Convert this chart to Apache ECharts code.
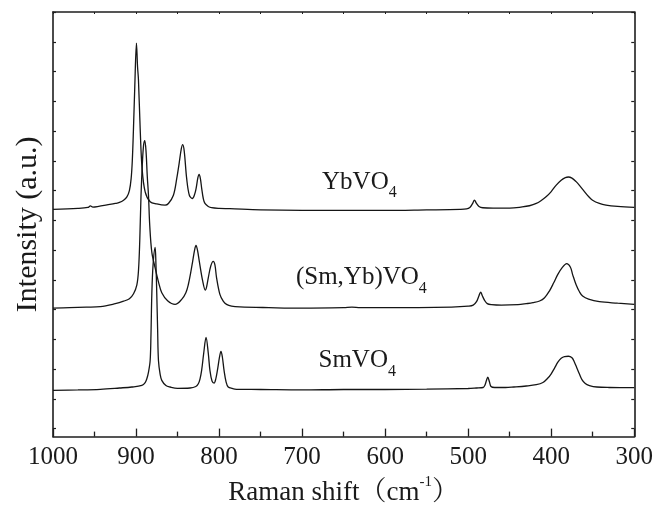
<!DOCTYPE html>
<html>
<head>
<meta charset="utf-8">
<script src="https://cdn.jsdelivr.net/npm/echarts@6/dist/echarts.min.js"></script>
<style>html,body{margin:0;padding:0;background:#fff;}#c{width:656px;height:511px;}</style>
</head>
<body>
<div id="c"></div>
<script>
// Raman shift (cm-1) vs intensity (a.u., stacked traces as plotted)
const xTicks = [1000, 900, 800, 700, 600, 500, 400, 300];
const yTicks = [0, 30, 60, 90, 120, 150, 180, 210, 240, 270, 300, 330, 360, 390, 420];

const ybVO4 = [
  [1000,221],[970,222],[958,223],[955,224.5],[952,223.3],[945,224],[935,225.5],[925,227],[920,228],
  [915,230.3],[911,233.7],[908,240],[905.9,252],[904.5,270],[903.1,302],[901.5,345],[899.5,388.7],
  [898.2,365],[897.1,352],[895,302],[892.7,262],[889,238.7],[883,228.7],[875,226.5],[865,225.3],
  [861,227],[855,235.3],[851,252],[848,268],[845.5,282],[843.8,286.3],[842,280],[839,252],[835.8,235.3],
  [832.2,232],[829.5,236],[827.7,242],[825.5,253],[824,256.3],[822.5,252],[820.9,242],[819,232],
  [817,227],[813,224],[809,222.7],[800,222],[787,221.7],[750,220.5],[700,220],[650,220],[600,220],
  [550,220.5],[510,221],[502,221.5],[498,223],[495,226.5],[492.4,230.3],[490,227],[487,224],
  [482.4,222.7],[470,222.3],[450,222.3],[435,223.5],[426.3,224.7],[418,227],[412,230],[406.2,233.7],
  [400,239],[394.2,245.3],[388,250.5],[383,253],[379.4,253.7],[375,252.5],[370,249],[366,245.3],
  [360,239],[355,234],[350.2,230.3],[342,227],[334,225.3],[320,224],[300,223]
];

const smYbVO4 = [
  [1000,121.5],[980,122],[960,122.5],[943,123],[925,126],[915,128.5],[908,131],[903,136],[899,145],
  [897,160],[895.5,190],[894,235],[892.5,265],[891,285],[889.5,290.3],[888,280],[886.5,255],[885,235],
  [883.5,205],[881,178],[877,162],[873,148],[869,137],[862,129],[853,125.3],[845,130.3],[840,137],
  [837,145.3],[834,158],[831.8,168.7],[829.5,180],[827.8,184.7],[826,180],[823.8,168.7],[819.7,148.7],
  [816.6,139.7],[815,143],[813,152],[810,164],[807,168.7],[805,165],[803,152],[799,135.3],[795,128.5],
  [791,125.3],[785,123.5],[775,122.7],[740,122],[700,121.5],[650,122],[640,122.5],[630,122],[600,122],
  [560,122],[520,122.5],[500,123.5],[494,124.5],[490,128],[487,134],[485,137.7],[483,134],[480,129],
  [477,126],[472,125],[460,124.5],[440,125],[430,126],[422,127],[414,128.7],[408,132],[402.2,138.7],
  [397,147],[392.2,155.3],[387,162],[381.4,166.3],[377,163],[374.2,155.3],[370,145],[366,138],
  [362.2,133.7],[355,130.5],[342,128],[320,126.5],[300,125.3]
];

const smVO4 = [
  [1000,38.5],[970,39],[943,39.7],[920,41],[905,42],[893,43.7],[889,46.5],[887,50.3],[885,57],
  [883,68.7],[882,95],[881,135.3],[879.5,165],[877,182.7],[876,165],[875,135.3],[874,100],[873,68.7],
  [871,55],[869,48.7],[864,43.5],[859,42],[850,40.7],[835,41],[828,42.5],[825,45.3],[823,50],
  [821,58.7],[818.5,76],[815.7,92],[813,76],[811,58.7],[808.5,48],[806,46],[804,50],[802,58.7],
  [799.5,72],[797.7,78],[796,72],[794,58.7],[791.5,47],[789,42],[784,40.5],[779,39.7],[750,39.5],
  [700,39],[650,39.5],[600,39.5],[550,39.8],[500,40.5],[490,41],[482,41.5],[480,43.5],[478,48.5],
  [476.4,52],[474.5,47.5],[472.5,42.5],[468,41.5],[455,41.5],[445,42],[430,43],[418,44.3],[410,46.5],
  [404,51],[400,55.3],[396,61],[392,67],[388,71],[384,72.7],[379.4,73],[375,71.5],[372,67],[369,61],
  [366,55],[363,49.5],[359,45.5],[354,43.5],[345,42],[330,41.5],[300,41.3]
];

// label anchors (data coords of text centre)
const labels = [
  { name: 'YbVO', sub: '4', at: [631, 248.5] },
  { name: '(Sm,Yb)VO', sub: '4', at: [628.6, 152.5] },
  { name: 'SmVO', sub: '4', at: [633.6, 68.5] }
];

const FONT = '"Liberation Serif", "Times New Roman", "Noto Serif CJK SC", "Noto Sans CJK SC", serif';
const AXC = '#1e1e1e';

const chart = echarts.init(document.getElementById('c'), null, { renderer: 'canvas' });

const lineSeries = (data) => ({
  type: 'line', data: data, showSymbol: false, smooth: 0.35, animation: false,
  lineStyle: { color: '#151515', width: 1.3 }, xAxisIndex: 0, yAxisIndex: 0
});

chart.setOption({
  animation: false,
  backgroundColor: '#fff',
  grid: { left: 53, right: 21, top: 12, bottom: 71, containLabel: false },
  xAxis: [{
    type: 'value', inverse: true, min: 300, max: 1000, interval: 100, position: 'bottom',
    name: '{t|Raman shift（cm}{s|-1}{t|）}', nameLocation: 'middle', nameGap: 32,
    nameTextStyle: {
      rich: {
        t: { fontFamily: FONT, fontSize: 27, color: '#1a1a1a', lineHeight: 36 },
        s: { fontFamily: FONT, fontSize: 15, color: '#1a1a1a', verticalAlign: 'top', lineHeight: 15 }
      }
    },
    axisLine: { show: true, onZero: false, lineStyle: { color: AXC, width: 1.6 } },
    axisTick: { show: true, inside: true, length: 8, lineStyle: { color: AXC, width: 1.3 } },
    minorTick: { show: true, splitNumber: 2, length: 5, lineStyle: { color: AXC, width: 1.3 } },
    axisLabel: { color: '#1a1a1a', fontFamily: FONT, fontSize: 25, margin: 8,
      customValues: xTicks, formatter: (v) => String(v) },
    splitLine: { show: false }
  }, {
    type: 'value', inverse: true, min: 300, max: 1000, interval: 50, position: 'top',
    axisLine: { show: true, onZero: false, lineStyle: { color: AXC, width: 1.6 } },
    axisTick: { show: true, inside: true, length: 2, lineStyle: { color: AXC, width: 1 } },
    axisLabel: { show: false }, splitLine: { show: false }
  }],
  yAxis: [{
    type: 'value', min: -8, max: 420, position: 'left',
    name: 'Intensity (a.u.)', nameLocation: 'middle', nameGap: 10, nameRotate: 90,
    nameTextStyle: { fontFamily: FONT, fontSize: 30, color: '#1a1a1a' },
    axisLine: { show: true, onZero: false, lineStyle: { color: AXC, width: 1.6 } },
    axisTick: { show: true, inside: true, length: 3, customValues: yTicks, lineStyle: { color: AXC, width: 1.2 } },
    axisLabel: { show: false, customValues: yTicks },
    splitLine: { show: false }
  }, {
    type: 'value', min: -8, max: 420, position: 'right',
    axisLine: { show: true, onZero: false, lineStyle: { color: AXC, width: 1.6 } },
    axisTick: { show: true, inside: true, length: 3, customValues: yTicks, lineStyle: { color: AXC, width: 1.2 } },
    axisLabel: { show: false, customValues: yTicks },
    splitLine: { show: false }
  }],
  series: [lineSeries(ybVO4), lineSeries(smYbVO4), lineSeries(smVO4)]
});

const graphics = labels.map(l => {
  const p = chart.convertToPixel({ xAxisIndex: 0, yAxisIndex: 0 }, l.at);
  return {
    type: 'text', x: p[0], y: p[1], silent: true,
    style: {
      text: '{a|' + l.name + '}{b|' + l.sub + '}',
      align: 'center', verticalAlign: 'middle',
      rich: {
        a: { fontFamily: FONT, fontSize: 25, lineHeight: 38, fill: '#1a1a1a', color: '#1a1a1a' },
        b: { fontFamily: FONT, fontSize: 16, lineHeight: 16, verticalAlign: 'bottom', fill: '#1a1a1a', color: '#1a1a1a' }
      }
    }
  };
});
chart.setOption({ graphic: graphics });
</script>
</body>
</html>
